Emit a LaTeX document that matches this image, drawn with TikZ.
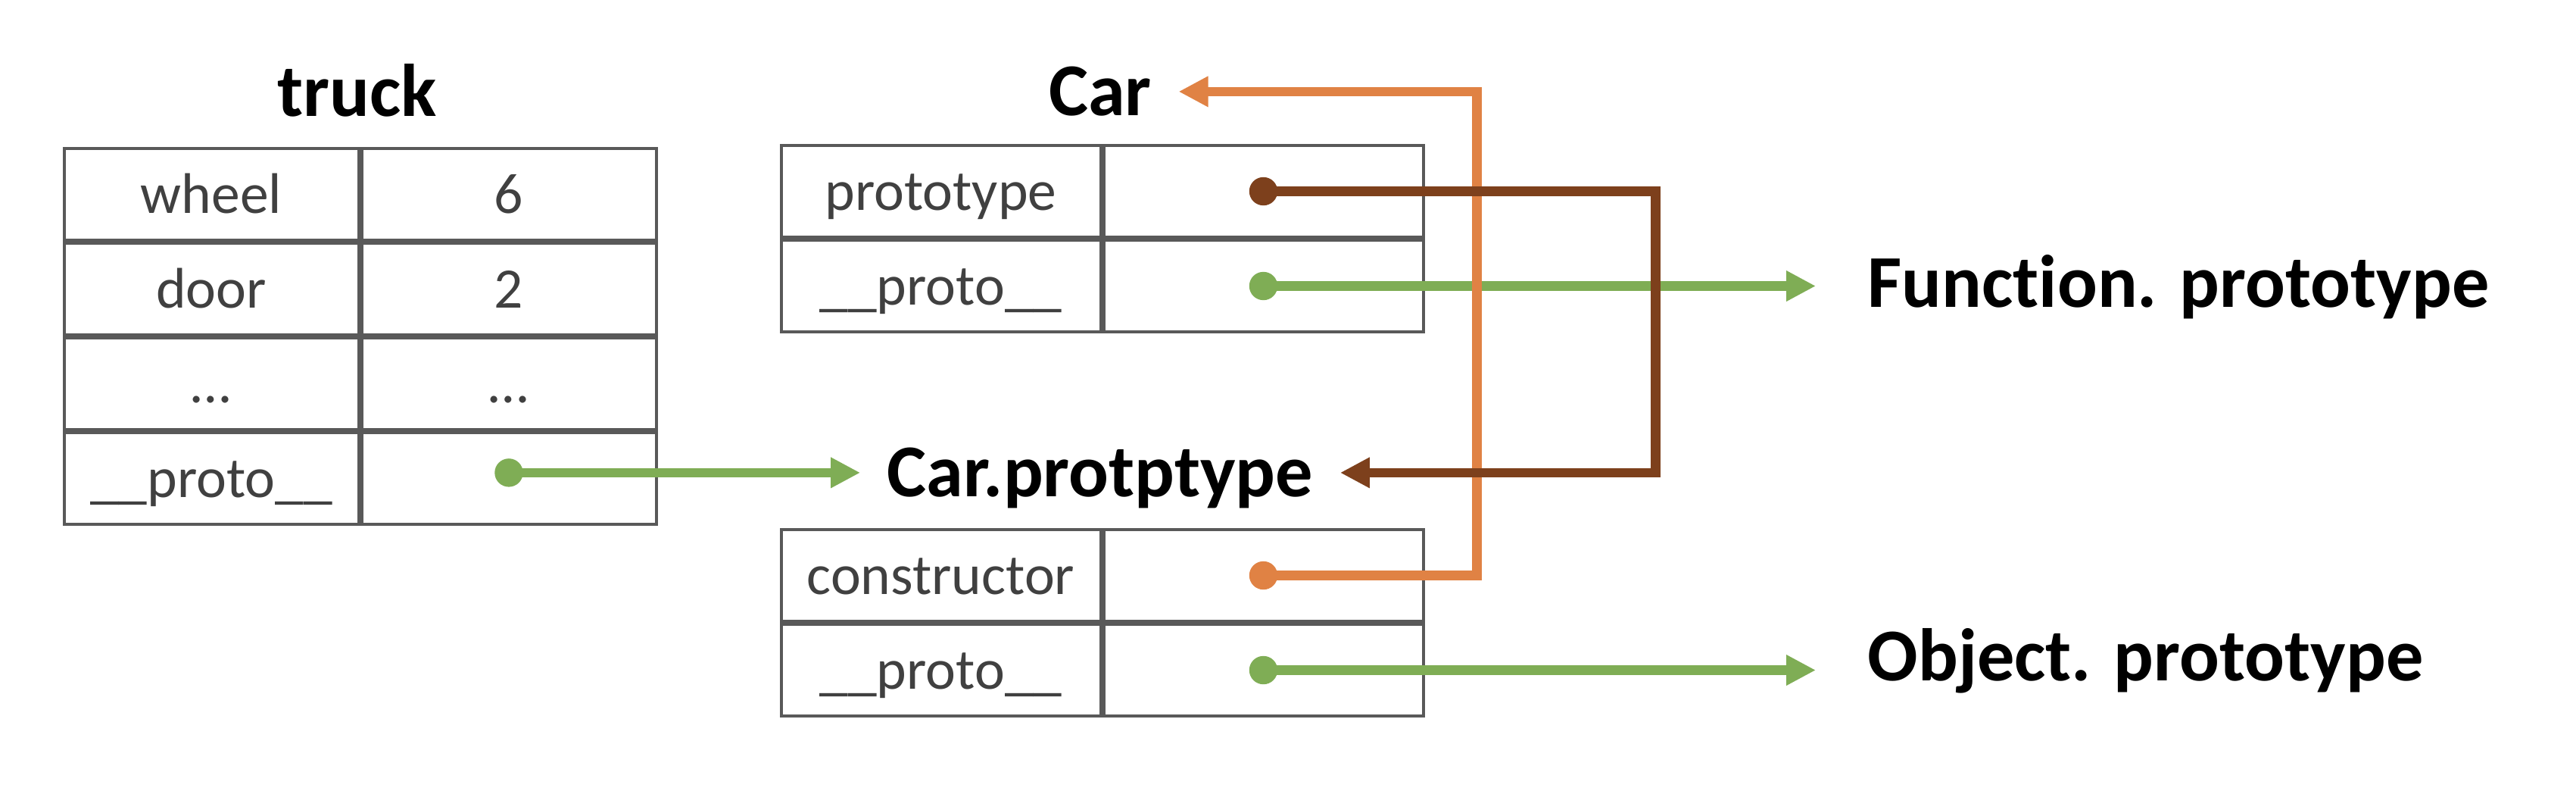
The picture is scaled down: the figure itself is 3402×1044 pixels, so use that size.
\documentclass[tikz,border=0pt]{standalone}
\usepackage{fontspec}
\setmainfont{Carlito}[Ligatures=NoCommon]
\usetikzlibrary{positioning,arrows.meta}
\definecolor{gridgray}{HTML}{595959}
\definecolor{celltext}{HTML}{404040}
\definecolor{linkgreen}{HTML}{7FAD55}
\definecolor{linkorange}{HTML}{E08244}
\definecolor{linkbrown}{HTML}{7D401C}
\begin{document}
\begin{tikzpicture}[x=0.1mm, y=-0.1mm, node distance=0pt,
    cell/.style={draw=gridgray, line width=0.4mm, minimum width=#1, minimum height=12.1mm, inner sep=0pt, text=celltext, font=\fontsize{21.5}{26}\selectfont, text height=16pt, text depth=1.8pt},
    title/.style={font=\fontsize{28}{34}\selectfont\bfseries, inner ysep=0pt, inner xsep=3.5mm, text height=17.7pt, text depth=0pt, anchor=base},
    dot/.style={circle, fill=#1, inner sep=0pt, minimum size=3.74mm},
    link/.style={draw=#1, line width=1.27mm, -{Triangle[length=3.9mm,width=3.8mm]}}]
    \useasboundingbox (0,0) rectangle (3402,1044);
    % truck
    \node[title] (truck) at (471.5,153) {truck};
    \node[cell=38.9mm] (tk1) at (279,256.5) {wheel};
    \node[cell=38.9mm, right=of tk1] (tv1) {6};
    \node[cell=38.9mm, below=of tk1] (tk2) {door};
    \node[cell=38.9mm, right=of tk2] (tv2) {2};
    \node[cell=38.9mm, below=of tk2] (tk3) {…};
    \node[cell=38.9mm, right=of tk3] (tv3) {…};
    \node[cell=38.9mm, below=of tk3] (tk4) {\_\_proto\_\_};
    \node[cell=38.9mm, right=of tk4] (tv4) {};
    % Car
    \node[title] (car) at (1453,152) {Car};
    \node[cell=42.2mm] (ck1) at (1242.5,252.5) {prototype};
    \node[cell=42.2mm, right=of ck1] (cv1) {};
    \node[cell=42.2mm, below=of ck1] (ck2) {\_\_proto\_\_};
    \node[cell=42.2mm, right=of ck2] (cv2) {};
    % Car.protptype
    \node[title] (cp) at (1453,655) {Car.protptype};
    \node[cell=42.2mm] (pk1) at (1242.5,759.5) {constructor};
    \node[cell=42.2mm, right=of pk1] (pv1) {};
    \node[cell=42.2mm, below=of pk1] (pk2) {\_\_proto\_\_};
    \node[cell=42.2mm, right=of pk2] (pv2) {};
    % targets on the right
    \node[title, anchor=base west, inner xsep=6.8mm] (fp) at (2398,405.6) {Function. prototype};
    \node[title, anchor=base west, inner xsep=6.8mm] (op) at (2398,898) {Object. prototype};
    % dots
    \node[dot=linkgreen] (d1) at (tv4.center |- cp.west) {};
    \node[dot=linkbrown] (d2) at (cv1) {};
    \node[dot=linkgreen] (d3) at (cv2) {};
    \node[dot=linkorange] (d4) at (pv1) {};
    \node[dot=linkgreen] (d5) at (pv2) {};
    % links
    \draw[link=linkgreen] (d1.center) -- (cp.west);
    \draw[link=linkgreen] (d3.center) -- (d3 -| fp.west);
    \draw[link=linkgreen] (d5.center) -- (d5 -| op.west);
    \draw[link=linkorange] (d4.center) -- ++(282,0) |- (car.east);
    \draw[link=linkbrown] (d2.center) -- ++(518,0) |- (cp.east);
\end{tikzpicture}
\end{document}
